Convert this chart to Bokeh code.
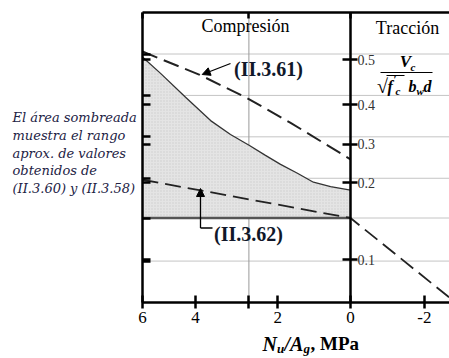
from bokeh.plotting import figure
from bokeh.models import Range1d, FixedTicker, LinearAxis, Label, Arrow, NormalHead
from bokeh.embed import file_html
from bokeh.resources import INLINE

# ---------------- data ----------------
# x = Nu/Ag in MPa (compression positive, plotted reversed), y = Vc/(sqrt(fc) bw d)
curve_x = [6.9, 6.30, 5.47, 4.64, 3.98, 3.35, 2.82, 2.32, 1.76, 1.23, 0.66, 0.0]   # upper limit of shaded zone
curve_y = [0.494, 0.461, 0.413, 0.366, 0.338, 0.316, 0.296, 0.278, 0.260, 0.242, 0.233, 0.226]
eq61_x = [6.9, 5.0, 3.45, 2.0, 0.0]                          # (II.3.61)
eq61_y = [0.505, 0.458, 0.412, 0.362, 0.288]
eq62_x = [6.9, 0.0, -3.28]                                   # (II.3.62) and tension branch
eq62_y = [0.247, 0.170, 0.010]
baseline = 0.17

x_min, x_max = -3.28, 6.9          # extent of the chart box (MPa)
y_min, y_max = 0.0, 7 / 12         # extent of the chart box

x_tick_pos = [6.9, 5.14, 3.37, 2.41, 0.0, -2.45]
x_tick_labels = ["6", "4", "", "2", "0", "-2"]
top_tick_pos = [6.9, 3.37, 0.0]
y_label_pos = [0.488, 0.398, 0.318, 0.241, 0.086]
y_labels = ["0.5", "0.4", "0.3", "0.2", "0.1"]
y_grid = [1 / 12, 0.17, 0.25, 1 / 3, 5 / 12, 0.5]
x_grid = [3.37]

note_lines = ["El área sombreada", "muestra el rango", "aprox. de valores",
              "obtenidos de", "(II.3.60) y (II.3.58)"]

SERIF = "Liberation Serif"
W, H = 449, 358


# pixel -> data helpers used only to place annotations
def X(px):
    return (350 - px) / 30.15


def Y(py):
    return (302 - py) / 497.0


p = figure(width=W, height=H, x_range=Range1d(X(0), X(W)), y_range=Range1d(Y(H), Y(0)),
           output_backend="svg", toolbar_location=None,
           x_axis_location=None, y_axis_location=None,
           min_border_left=0, min_border_right=0, min_border_top=0, min_border_bottom=0)
p.outline_line_color = None
p.background_fill_color = "white"
p.border_fill_color = "white"
p.xgrid.visible = False
p.ygrid.visible = False

# grid lines (inside the chart box only)
p.segment(x0=[x_max] * len(y_grid), y0=y_grid, x1=[x_min] * len(y_grid), y1=y_grid,
          line_color="#c4c4c4", line_width=1)
p.segment(x0=x_grid, y0=[y_min] * len(x_grid), x1=x_grid, y1=[y_max] * len(x_grid),
          line_color="#9a9a9a", line_width=1)

# shaded zone
p.varea(x=curve_x, y1=[baseline] * len(curve_x), y2=curve_y,
        fill_color="#e4e4e4", hatch_pattern="dot", hatch_color="#cccccc",
        hatch_scale=3, hatch_weight=0.8)
p.line(curve_x, curve_y, line_color="#333333", line_width=1.3)
p.line([curve_x[0], curve_x[-1]], [baseline, baseline], line_color="#555555", line_width=2.5)
p.line(eq61_x, eq61_y, line_color="#222222", line_width=2, line_dash="16 7")
p.line(eq62_x, eq62_y, line_color="#222222", line_width=1.8, line_dash="16 7")

# top border of the box with small ticks
xt = LinearAxis(fixed_location=y_max, bounds=(x_min, x_max),
                ticker=FixedTicker(ticks=top_tick_pos),
                major_label_overrides={t: "" for t in top_tick_pos},
                axis_line_width=2.5, major_tick_line_width=2.5,
                major_tick_in=6, major_tick_out=0, minor_tick_line_color=None)
p.add_layout(xt, "above")

# bottom axis
xa = LinearAxis(fixed_location=y_min, bounds=(x_min, x_max),
                ticker=FixedTicker(ticks=x_tick_pos),
                major_label_overrides=dict(zip(x_tick_pos, x_tick_labels)),
                axis_line_width=2.5, major_tick_line_width=2.5,
                major_tick_in=7, major_tick_out=6, minor_tick_line_color=None,
                major_label_standoff=3, major_label_text_font=SERIF,
                major_label_text_font_size="17px", major_label_text_color="black")
p.add_layout(xa, "below")

# left frame axis (ticks only)
left_ticks = sorted(y_grid + y_label_pos)
ya = LinearAxis(fixed_location=x_max, bounds=(y_min, y_max),
                ticker=FixedTicker(ticks=left_ticks),
                major_label_overrides={t: "" for t in left_ticks},
                axis_line_width=2.5, major_tick_line_width=2.5,
                major_tick_in=8, major_tick_out=0, minor_tick_line_color=None)
p.add_layout(ya, "left")

# central vertical axis at Nu/Ag = 0
yc = LinearAxis(fixed_location=0, bounds=(y_min, y_max), ticker=FixedTicker(ticks=y_label_pos),
                major_label_overrides=dict(zip(y_label_pos, y_labels)),
                axis_line_width=2.5, major_tick_line_width=2.5,
                major_tick_in=8, major_tick_out=7, major_label_standoff=0,
                minor_tick_line_color=None, major_label_text_font=SERIF,
                major_label_text_font_size="14px", major_label_text_color="#333333")
p.add_layout(yc, "right")


def lab(px, py, text, size, style="normal", align="center", font=SERIF, color="black"):
    p.add_layout(Label(x=X(px), y=Y(py), text=text, text_font=font, text_font_size=size,
                       text_font_style=style, text_align=align, text_baseline="middle",
                       text_color=color))


lab(245, 25, "Compresión", "18px")
lab(407, 27, "Tracción", "18px")
lab(268, 68, "(II.3.61)", "20px", "bold", color="#10182a")
lab(248, 233, "(II.3.62)", "20px", "bold", color="#10182a")

# arrows
head = dict(size=8, fill_color="black", line_color="black")
p.add_layout(Arrow(end=NormalHead(**head), x_start=X(230), y_start=Y(63), x_end=X(201.7), y_end=Y(74),
                   line_width=1.3, line_color="black"))
p.add_layout(Arrow(start=None, end=None, x_start=X(212), y_start=Y(227.5), x_end=X(200), y_end=Y(227.5),
                   line_width=1.3, line_color="black"))
p.add_layout(Arrow(end=NormalHead(**head), x_start=X(200), y_start=Y(227.5), x_end=X(200), y_end=Y(188),
                   line_width=1.3, line_color="black"))

# y quantity (fraction) at right
lab(405, 61, "V", "17px", "bold italic")
lab(410, 66, "c", "11px", "bold italic", "left")
p.add_layout(Arrow(start=None, end=None, x_start=X(380), y_start=Y(72), x_end=X(432), y_end=Y(72),
                   line_width=1.2, line_color="black"))
lab(382, 85, "√", "20px")
p.add_layout(Arrow(start=None, end=None, x_start=X(386), y_start=Y(75), x_end=X(404), y_end=Y(75),
                   line_width=1.0, line_color="black"))
lab(387, 86, "f", "16px", "bold italic", "left")
lab(393, 78, "′", "11px", "bold", "left")
lab(395, 90, "c", "11px", "bold italic", "left")
lab(408, 86, "b", "16px", "bold italic", "left")
lab(416, 90, "w", "11px", "bold italic", "left")
lab(423, 86, "d", "16px", "bold italic", "left")

# x axis title  Nu/Ag, MPa
lab(262, 343, "N", "20px", "bold italic", "left")
lab(276.5, 348, "u", "13px", "bold italic", "left")
lab(284, 343, "/A", "20px", "bold italic", "left")
lab(303, 348, "g", "13px", "bold italic", "left")
lab(310, 343, ", MPa", "19px", "bold", "left")

# side note
for i, t in enumerate(note_lines):
    lab(12, 117 + 17.8 * i, t, "13px", "italic", "left", "DejaVu Serif", "#222244")

open("out.html", "w").write(file_html(p, INLINE))
